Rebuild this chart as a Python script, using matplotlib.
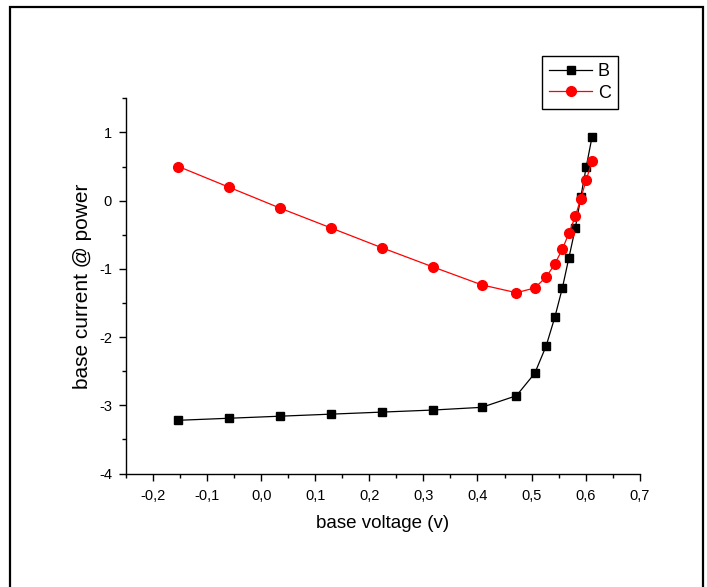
import matplotlib

matplotlib.use("Agg")
import matplotlib.pyplot as plt
from matplotlib.patches import Rectangle
from matplotlib.ticker import FuncFormatter, MultipleLocator

plt.rcParams["font.family"] = ["Liberation Sans", "DejaVu Sans"]

# base voltage sweep (shared by both curves)
base_voltage = [-0.153, -0.059, 0.035, 0.129, 0.223, 0.317, 0.408, 0.472, 0.506,
                0.527, 0.543, 0.557, 0.569, 0.581, 0.591, 0.601, 0.612]
current_b = [-3.22, -3.19, -3.16, -3.13, -3.10, -3.07, -3.03, -2.86, -2.53,
             -2.13, -1.71, -1.28, -0.84, -0.40, 0.05, 0.49, 0.94]
current_c = [0.50, 0.195, -0.11, -0.40, -0.69, -0.97, -1.235, -1.35, -1.28,
             -1.12, -0.93, -0.71, -0.48, -0.23, 0.03, 0.30, 0.58]

W, H = 707, 587
fig = plt.figure(figsize=(W / 100, H / 100), dpi=100)
ax = fig.add_axes([126 / W, 1 - 473.5 / H, (639.7 - 126) / W, (473.5 - 98.3) / H])

ax.plot(base_voltage, current_b, "-s", color="black", lw=0.9, ms=6, label="B")
ax.plot(base_voltage, current_c, "-o", color="#ff0000", lw=0.9, ms=7, label="C")

ax.set_xlim(-0.25, 0.7)
ax.set_ylim(-4, 1.5)
ax.xaxis.set_major_locator(MultipleLocator(0.1))
ax.xaxis.set_minor_locator(MultipleLocator(0.05))
ax.yaxis.set_major_locator(MultipleLocator(1))
ax.yaxis.set_minor_locator(MultipleLocator(0.5))

# decimal comma on the voltage axis
ax.xaxis.set_major_formatter(FuncFormatter(lambda v, p: f"{v:.1f}".replace(".", ",").replace("-0,0", "0,0")))
ax.yaxis.set_major_formatter(FuncFormatter(lambda v, p: f"{v:.0f}"))

for side in ("top", "right"):
    ax.spines[side].set_visible(False)
for side in ("left", "bottom"):
    ax.spines[side].set_linewidth(1.0)
ax.tick_params(which="major", direction="out", length=5, width=1, labelsize=10.5)
ax.tick_params(axis="x", which="major", pad=6)
ax.tick_params(axis="y", which="major", pad=5)
ax.tick_params(which="minor", direction="out", length=3, width=1)

ax.set_xlabel("base voltage (v)", fontsize=13.5, labelpad=9)
ax.set_ylabel("base current @ power", fontsize=15, labelpad=5)

leg = ax.legend(loc="upper left", bbox_to_anchor=(541.7 / W, 1 - 56 / H),
                bbox_transform=fig.transFigure, fontsize=13, handlelength=2.4,
                borderpad=0.4, labelspacing=0.25, handletextpad=0.3,
                borderaxespad=0, fancybox=False, framealpha=1)
leg.get_frame().set_edgecolor("black")
leg.get_frame().set_linewidth(1.0)

# outer frame around the whole plot
fig.patches.append(Rectangle((10 / W, -0.05), (702.7 - 10) / W, 1.05 - 7.3 / H,
                             transform=fig.transFigure, fill=False,
                             edgecolor="black", linewidth=1.6))

fig.savefig("out.png", dpi=100)
